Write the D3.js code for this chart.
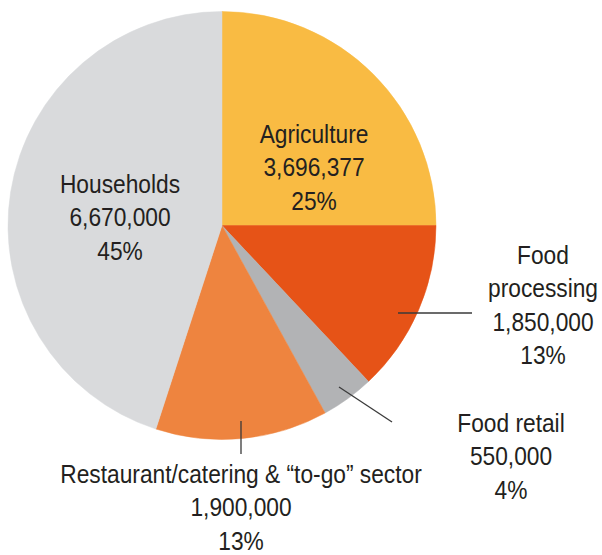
<!DOCTYPE html>
<html>
<head>
<meta charset="utf-8">
<script src="https://cdn.jsdelivr.net/npm/d3@7/dist/d3.min.js"></script>
<style>
  html, body { margin: 0; padding: 0; background: #fff; }
  svg { display: block; }
  text { font-family: "Liberation Sans", Arial, Helvetica, sans-serif; fill: #231f20; }
</style>
</head>
<body>
<svg id="chart" width="602" height="555"></svg>
<script>
// ---- data ----
const categories = ["Agriculture", "Food processing", "Food retail", "Restaurant/catering & \u201cto-go\u201d sector", "Households"];
const values = [3696377, 1850000, 550000, 1900000, 6670000];
const percents = [25, 13, 4, 13, 45];
const valueLabels = ["3,696,377", "1,850,000", "550,000", "1,900,000", "6,670,000"];
const percentLabels = ["25%", "13%", "4%", "13%", "45%"];
const colors = ["#F9BB43", "#E65317", "#B2B3B5", "#EE843F", "#D9DADC"];

// ---- layout (positions of labels, not data) ----
const cx = 222, cy = 225.5, R = 214;
const labelLayout = [
  { lines: ["Agriculture"], x: 314, y: 143 },
  { lines: ["Food", "processing"], x: 543, y: 264 },
  { lines: ["Food retail"], x: 511, y: 432 },
  { lines: ["Restaurant/catering & \u201cto-go\u201d sector"], x: 241, y: 483 },
  { lines: ["Households"], x: 120, y: 193 }
];
const leaders = [
  null,
  [[398, 313], [472, 313]],
  [[339, 387], [392, 422]],
  [[241, 421], [241, 454]],
  null
];
const lineH = 33.3;
const fontSize = 25;
const squeeze = 0.91;

const svg = d3.select("#chart");
const g = svg.append("g").attr("transform", `translate(${cx},${cy})`);

// slices sized by the printed shares
const pie = d3.pie().sort(null).value(d => d.pct).startAngle(0).endAngle(2 * Math.PI);
const arc = d3.arc().innerRadius(0).outerRadius(R);

const data = categories.map((c, i) => ({ name: c, value: values[i], pct: percents[i], color: colors[i] }));
const arcs = pie(data);

g.selectAll("path.slice")
  .data(arcs)
  .join("path")
  .attr("class", "slice")
  .attr("d", arc)
  .attr("fill", d => d.data.color)
  .attr("stroke", d => d.data.color)
  .attr("stroke-width", 0.5);

// leader lines
leaders.forEach(l => {
  if (!l) return;
  svg.append("line")
    .attr("x1", l[0][0]).attr("y1", l[0][1])
    .attr("x2", l[1][0]).attr("y2", l[1][1])
    .attr("stroke", "#3a3a3a")
    .attr("stroke-width", 1.3);
});

// labels
labelLayout.forEach((lab, i) => {
  const lines = lab.lines.concat([valueLabels[i], percentLabels[i]]);
  lines.forEach((t, k) => {
    svg.append("text")
      .attr("transform", `translate(${lab.x},${lab.y + k * lineH}) scale(${squeeze},1)`)
      .attr("text-anchor", "middle")
      .attr("font-size", fontSize)
      .text(t);
  });
});
</script>
</body>
</html>
